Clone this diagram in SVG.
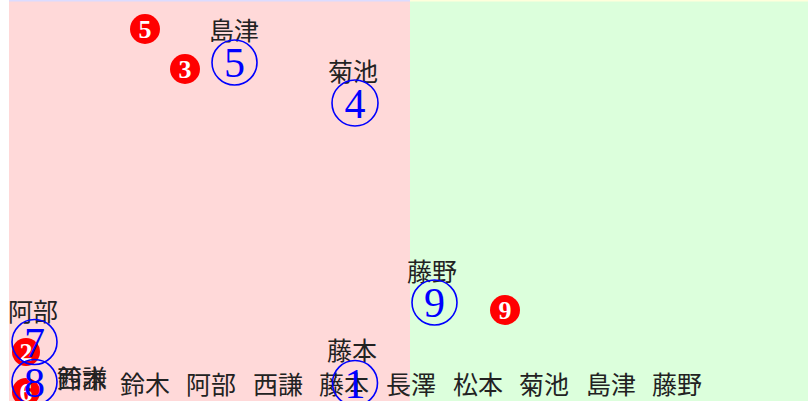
<svg xmlns="http://www.w3.org/2000/svg" width="808" height="401" viewBox="0 0 808 401">
<style>
.lbl{font-family:"Noto Sans CJK JP","Noto Sans CJK SC",sans-serif;font-size:25px;fill:#222;}
.ring{fill:none;stroke:#0000ff;stroke-width:1.6;}
.num{font-family:"Liberation Serif","DejaVu Serif",serif;font-size:42px;fill:#0000ff;text-anchor:middle;}
.dot{fill:#ff0000;}
.dnum{font-family:"Liberation Serif","DejaVu Serif",serif;font-size:26px;font-weight:bold;fill:#ffffff;text-anchor:middle;}
</style>
<rect x="0" y="0" width="808" height="401" fill="#ffffff"/>
<rect x="9" y="0" width="401" height="401" fill="#ffd9d9"/>
<rect x="410" y="0" width="398" height="401" fill="#dcffdc"/>
<rect x="9" y="0" width="401" height="1.5" fill="#dcdcff"/>
<rect x="410" y="0" width="398" height="1.5" fill="#ffffdc"/>
<g id="connectors"></g>
<g id="m5"><circle class="dot" cx="145" cy="29" r="15"/><text class="dnum" x="145" y="38">5</text></g>
<g id="m3"><circle class="dot" cx="185" cy="69" r="15"/><text class="dnum" x="185" y="78">3</text></g>
<g id="m9"><circle class="dot" cx="505" cy="310" r="15"/><text class="dnum" x="505" y="319">9</text></g>
<g id="m2"><circle class="dot" cx="26" cy="352" r="14"/><text class="dnum" x="26" y="361">2</text></g>
<g id="m6"><circle class="dot" cx="26" cy="392" r="14"/><text class="dnum" x="26" y="401">6</text></g>
<g id="row">
<text class="lbl" x="120" y="394">鈴木</text>
<text class="lbl" x="186" y="394">阿部</text>
<text class="lbl" x="253" y="394">西謙</text>
<text class="lbl" x="319" y="394">藤本</text>
<text class="lbl" x="386" y="394">長澤</text>
<text class="lbl" x="453" y="394">松本</text>
<text class="lbl" x="519" y="394">菊池</text>
<text class="lbl" x="586" y="394">島津</text>
<text class="lbl" x="652" y="394">藤野</text>
</g>
<g id="n5"><text class="lbl" x="209" y="40">島津</text><circle class="ring" cx="234.5" cy="62.5" r="22.5"/><text class="num" x="234.5" y="77">5</text></g>
<g id="n4"><text class="lbl" x="328" y="81">菊池</text><circle class="ring" cx="355" cy="103" r="23"/><text class="num" x="355" y="118">4</text></g>
<g id="n9"><text class="lbl" x="407" y="281">藤野</text><circle class="ring" cx="434.5" cy="302.5" r="22.5"/><text class="num" x="434.5" y="317">9</text></g>
<g id="n1"><text class="lbl" x="327" y="360">藤本</text><circle class="ring" cx="355" cy="383" r="22.5"/><text class="num" x="355" y="398">1</text></g>
<g id="n7"><text class="lbl" x="8" y="321">阿部</text><circle class="ring" cx="34.5" cy="342" r="22.5"/><text class="num" x="34.5" y="357">7</text></g>
<g id="n8"><circle class="ring" cx="34.5" cy="382" r="22.5"/><text class="num" x="34.5" y="397">8</text><text class="lbl" x="57" y="388">鈴木</text><text class="lbl" x="57" y="388">西謙</text></g>
</svg>
